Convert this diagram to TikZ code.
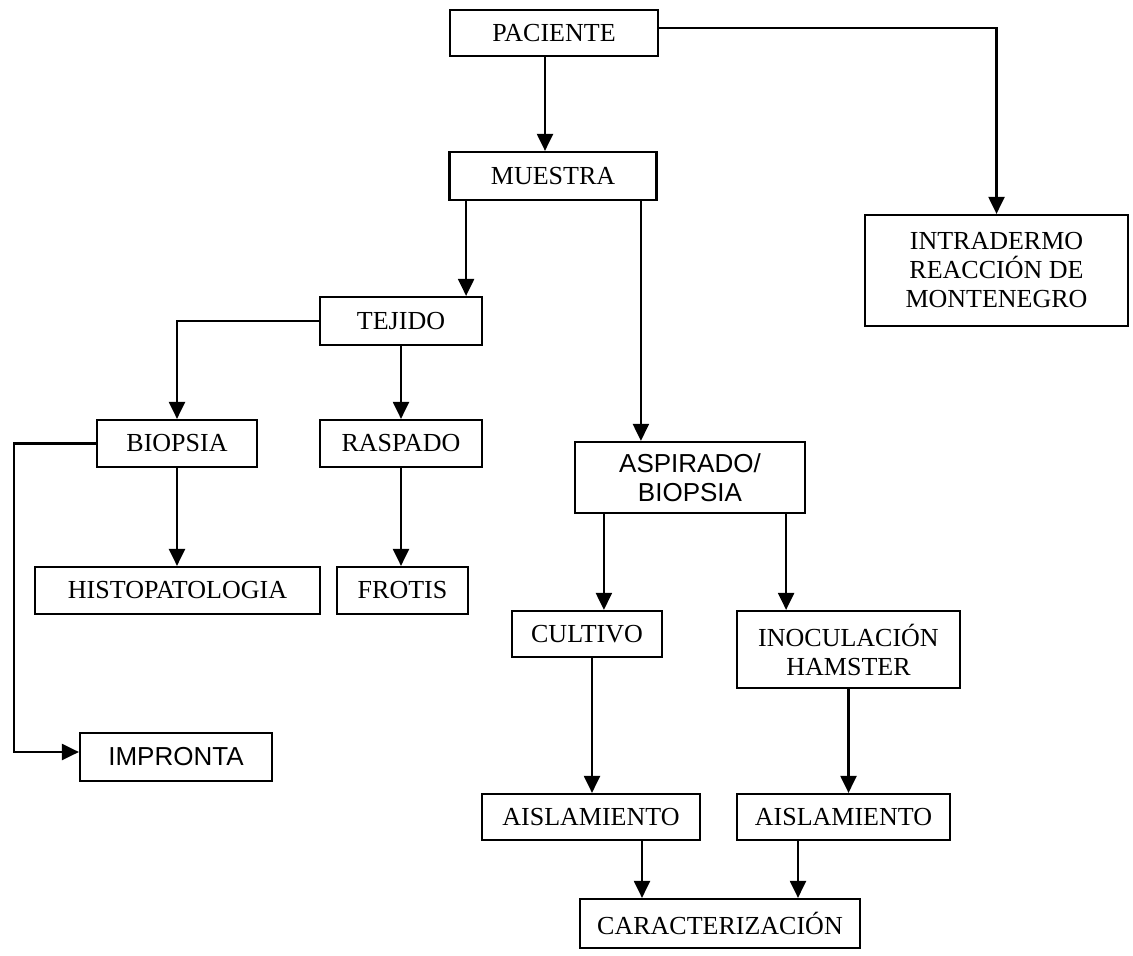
\documentclass[tikz,border=0pt]{standalone}
\usepackage{fontspec}
\setmainfont{Liberation Serif}
\newfontfamily\arialf{Liberation Sans}
\usepackage{tikz}
\usetikzlibrary{arrows.meta}

\begin{document}
\begin{tikzpicture}[x=0.5pt, y=-0.5pt,
    caja/.style={draw, line width=1.1pt, inner sep=0pt, align=center, font=\fontsize{13}{14.5}\selectfont},
    flecha/.style={line width=1.1pt, -{Triangle[length=8.5pt, width=8pt]}}]
    \useasboundingbox (0,0) rectangle (1133,956);

    % cajas
    \node[caja, minimum width=104pt, minimum height=23pt] (pac) at (554,33) {PACIENTE};
    \node[caja, minimum width=103.5pt, minimum height=24pt] (mue) at (553,176) {MUESTRA};
    \node[caja, minimum width=131.5pt, minimum height=55.5pt] (intra) at (996.5,270.5) {INTRADERMO\\REACCIÓN DE\\MONTENEGRO};
    \node[caja, minimum width=81pt, minimum height=24pt] (tej) at (401,321) {TEJIDO};
    \node[caja, minimum width=80pt, minimum height=23.5pt] (bio) at (177,443.5) {BIOPSIA};
    \node[caja, minimum width=81pt, minimum height=23.5pt] (ras) at (401,443.5) {RASPADO};
    \node[caja, minimum width=115pt, minimum height=35.5pt, font=\arialf\fontsize{13}{14.5}\selectfont] (asp) at (690,477.5) {ASPIRADO/\\BIOPSIA};
    \node[caja, minimum width=142.5pt, minimum height=23.5pt] (histo) at (177.5,590.5) {HISTOPATOLOGIA};
    \node[caja, minimum width=65.5pt, minimum height=23.5pt] (fro) at (402.5,590.5) {FROTIS};
    \node[caja, minimum width=75pt, minimum height=23pt] (cul) at (587,634) {CULTIVO};
    \node[caja, minimum width=111.5pt, minimum height=38.5pt] (inoc) at (848.5,649.5) {INOCULACIÓN\\HAMSTER};
    \node[caja, minimum width=96pt, minimum height=24pt, font=\arialf\fontsize{13}{14.5}\selectfont] (imp) at (176,757) {IMPRONTA};
    \node[caja, minimum width=109pt, minimum height=23pt] (ais1) at (591,817) {AISLAMIENTO};
    \node[caja, minimum width=106.5pt, minimum height=23pt] (ais2) at (843.5,817) {AISLAMIENTO};
    \node[caja, minimum width=140pt, minimum height=24.5pt] (car) at (720,923.5) {CARACTERIZACIÓN};

    % puntos de llegada
    \coordinate (m1) at ([xshift=-4pt]mue.north);
    \coordinate (t1) at ([xshift=-8.5pt]tej.north east);
    \coordinate (a1) at ([xshift=33.5pt]asp.north west);
    \coordinate (c1) at ([xshift=15pt]asp.south west);
    \coordinate (c2) at ([xshift=-10pt]asp.south east);
    \coordinate (u1) at ([xshift=2.5pt]cul.south);
    \coordinate (k1) at ([xshift=25.5pt]ais1.south);
    \coordinate (k2) at ([xshift=-22.75pt]ais2.south);

    % flechas
    \draw[flecha] (pac.south -| m1) -- (m1);
    \draw[flecha] ([yshift=2.5pt]pac.east) -| (intra.north);
    \draw[flecha] (mue.south -| t1) -- (t1);
    \draw[flecha] (mue.south -| a1) -- (a1);
    \draw[flecha] (tej.west) -| (bio.north);
    \draw[flecha] (tej.south) -- (ras.north);
    \draw[flecha] (bio.south) -- (bio.south |- histo.north);
    \draw[flecha] (bio.west) -- ++(-41pt,0) |- ([yshift=2.5pt]imp.west);
    \draw[flecha] (ras.south) -- (ras.south |- fro.north);
    \draw[flecha] (c1) -- (c1 |- cul.north);
    \draw[flecha] (c2) -- (c2 |- inoc.north);
    \draw[flecha] (u1) -- (u1 |- ais1.north);
    \draw[flecha] (inoc.south) -- (inoc.south |- ais2.north);
    \draw[flecha] (k1) -- (k1 |- car.north);
    \draw[flecha] (k2) -- (k2 |- car.north);
\end{tikzpicture}
\end{document}
